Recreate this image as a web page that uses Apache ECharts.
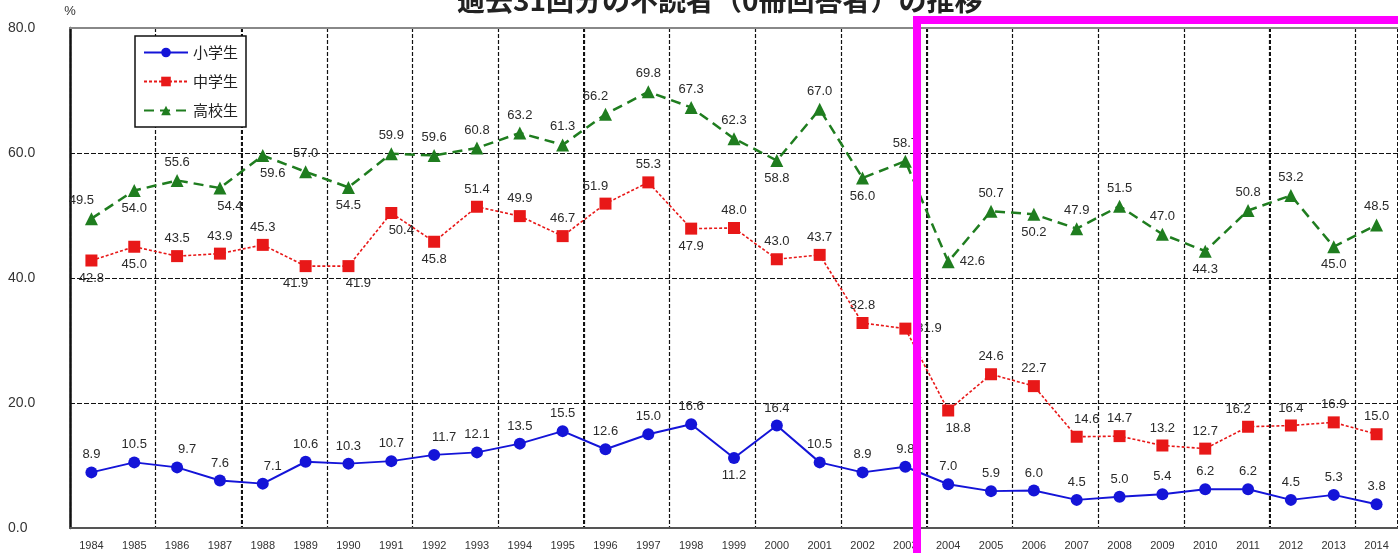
<!DOCTYPE html>
<html>
<head>
<meta charset="utf-8">
<script src="https://cdn.jsdelivr.net/npm/echarts@6/dist/echarts.min.js"></script>
<style>
  html, body { margin: 0; padding: 0; background: #fff; }
  #chart { width: 1398px; height: 553px; }
</style>
</head>
<body>
<div id="chart"></div>
<script>
// Survey years (31 rounds)
const years = ['1984','1985','1986','1987','1988','1989','1990','1991','1992','1993',
  '1994','1995','1996','1997','1998','1999','2000','2001','2002','2003',
  '2004','2005','2006','2007','2008','2009','2010','2011','2012','2013','2014'];

// Share of non-readers (0 books in May), %
const elementary = [8.9,10.5,9.7,7.6,7.1,10.6,10.3,10.7,11.7,12.1,
  13.5,15.5,12.6,15.0,16.6,11.2,16.4,10.5,8.9,9.8,
  7.0,5.9,6.0,4.5,5.0,5.4,6.2,6.2,4.5,5.3,3.8];
const juniorHigh = [42.8,45.0,43.5,43.9,45.3,41.9,41.9,50.4,45.8,51.4,
  49.9,46.7,51.9,55.3,47.9,48.0,43.0,43.7,32.8,31.9,
  18.8,24.6,22.7,14.6,14.7,13.2,12.7,16.2,16.4,16.9,15.0];
const seniorHigh = [49.5,54.0,55.6,54.4,59.6,57.0,54.5,59.9,59.6,60.8,
  63.2,61.3,66.2,69.8,67.3,62.3,58.8,67.0,56.0,58.7,
  42.6,50.7,50.2,47.9,51.5,47.0,44.3,50.8,53.2,45.0,48.5];

const yTicks = [0, 20, 40, 60, 80];

// Which side of each point its value label sits on
const elemSide = ['t','t','tr','t','tr','t','t','t','tr','t',
  't','t','t','t','t','b','t','t','t','t',
  't','t','t','t','t','t','t','t','t','t','t'];
const juniorSide = ['b','b','t','t','t','bl','br','br','b','t',
  't','t','tl','t','b','t','t','t','t','r',
  'br','t','t','tr','t','t','t','tl','t','t','t'];
const seniorSide = ['tl','b','t','br','br','t','b','t','t','t',
  't','t','tl','t','t','t','b','t','b','t',
  'r','t','b','t','t','t','b','t','t','b','t'];

function labelFor(side) {
  const base = { show: true, color: '#2a2a2a', fontSize: 13,
    fontFamily: 'Liberation Sans, Arial, sans-serif',
    formatter: p => Number(p.value).toFixed(1) };
  const pos = { t: 'top', b: 'bottom', r: 'right', l: 'left' };
  base.position = pos[side[0]];
  base.distance = 5;
  if (side.length > 1) base.offset = [side[1] === 'r' ? 10 : -10, 0];
  return base;
}

function buildData(values, sides) {
  return values.map((v, i) => ({ value: v, label: labelFor(sides[i]) }));
}

const chart = echarts.init(document.getElementById('chart'), null, { renderer: 'canvas' });

chart.setOption({
  backgroundColor: '#ffffff',
  animation: false,
  title: {
    text: '過去31回分の不読者（0冊回答者）の推移',
    left: 452, top: -19,
    textStyle: { fontSize: 28, fontWeight: 'bold', color: '#222',
      fontFamily: 'Noto Sans CJK JP, sans-serif' }
  },
  legend: {
    orient: 'vertical',
    left: 135, top: 36,
    padding: [9, 8, 9, 8],
    itemGap: 14,
    itemWidth: 44, itemHeight: 12,
    borderColor: '#111', borderWidth: 1.5,
    backgroundColor: '#fff',
    textStyle: { fontSize: 15, color: '#222', fontFamily: 'Noto Sans CJK JP, sans-serif' },
    data: ['小学生', '中学生', '高校生']
  },
  grid: { left: 70, right: -13, top: 28, bottom: 25, containLabel: false },
  xAxis: [
    {
      type: 'category', data: years, boundaryGap: true,
      axisLine: { show: true, lineStyle: { color: '#555', width: 2 } },
      axisTick: { show: false },
      axisLabel: { interval: 0, margin: 12, fontSize: 11, color: '#333',
        fontFamily: 'Liberation Sans, Arial, sans-serif' },
      splitLine: { show: true, interval: 1,
        lineStyle: { color: '#111', width: 1.2, type: [4, 2] } }
    },
    {
      type: 'category', data: years, boundaryGap: true, position: 'top',
      axisLine: { show: true, lineStyle: { color: '#888', width: 2 } },
      axisTick: { show: false },
      axisLabel: { show: false },
      splitLine: { show: true, interval: (i) => i % 8 === 4,
        lineStyle: { color: '#111', width: 2, type: [4, 2] } }
    }
  ],
  yAxis: {
    type: 'value', min: yTicks[0], max: yTicks[yTicks.length - 1], interval: 20,
    name: '%', nameGap: 10,
    nameTextStyle: { fontSize: 13, color: '#333', align: 'center',
      fontFamily: 'Liberation Sans, Arial, sans-serif' },
    axisLine: { show: true, lineStyle: { color: '#111', width: 2.5 } },
    axisTick: { show: false },
    axisLabel: { formatter: v => v.toFixed(1), align: 'left', margin: 62,
      fontSize: 14, color: '#333', fontFamily: 'Liberation Sans, Arial, sans-serif' },
    splitLine: { show: true, lineStyle: { color: '#111', width: 1, type: [5, 2] } }
  },
  series: [
    {
      name: '小学生', type: 'line', xAxisIndex: 0,
      data: buildData(elementary, elemSide),
      symbol: 'circle', symbolSize: 12,
      lineStyle: { color: '#1414d8', width: 2 },
      itemStyle: { color: '#1414d8' },
      z: 3
    },
    {
      name: '中学生', type: 'line', xAxisIndex: 0,
      data: buildData(juniorHigh, juniorSide),
      symbol: 'rect', symbolSize: 12,
      lineStyle: { color: '#e81818', width: 1.6, type: [3, 2] },
      itemStyle: { color: '#e81818' },
      z: 3
    },
    {
      name: '高校生', type: 'line', xAxisIndex: 0,
      data: buildData(seniorHigh, seniorSide),
      symbol: 'triangle', symbolSize: 13,
      lineStyle: { color: '#1f7d1f', width: 2.5, type: [10, 6] },
      itemStyle: { color: '#1f7d1f' },
      z: 3
    }
  ],
  graphic: [
    {
      type: 'rect', z: 100,
      shape: { x: 917, y: 20, width: 600, height: 600 },
      style: { fill: null, stroke: '#ff00ff', lineWidth: 8 }
    }
  ]
});
</script>
</body>
</html>
